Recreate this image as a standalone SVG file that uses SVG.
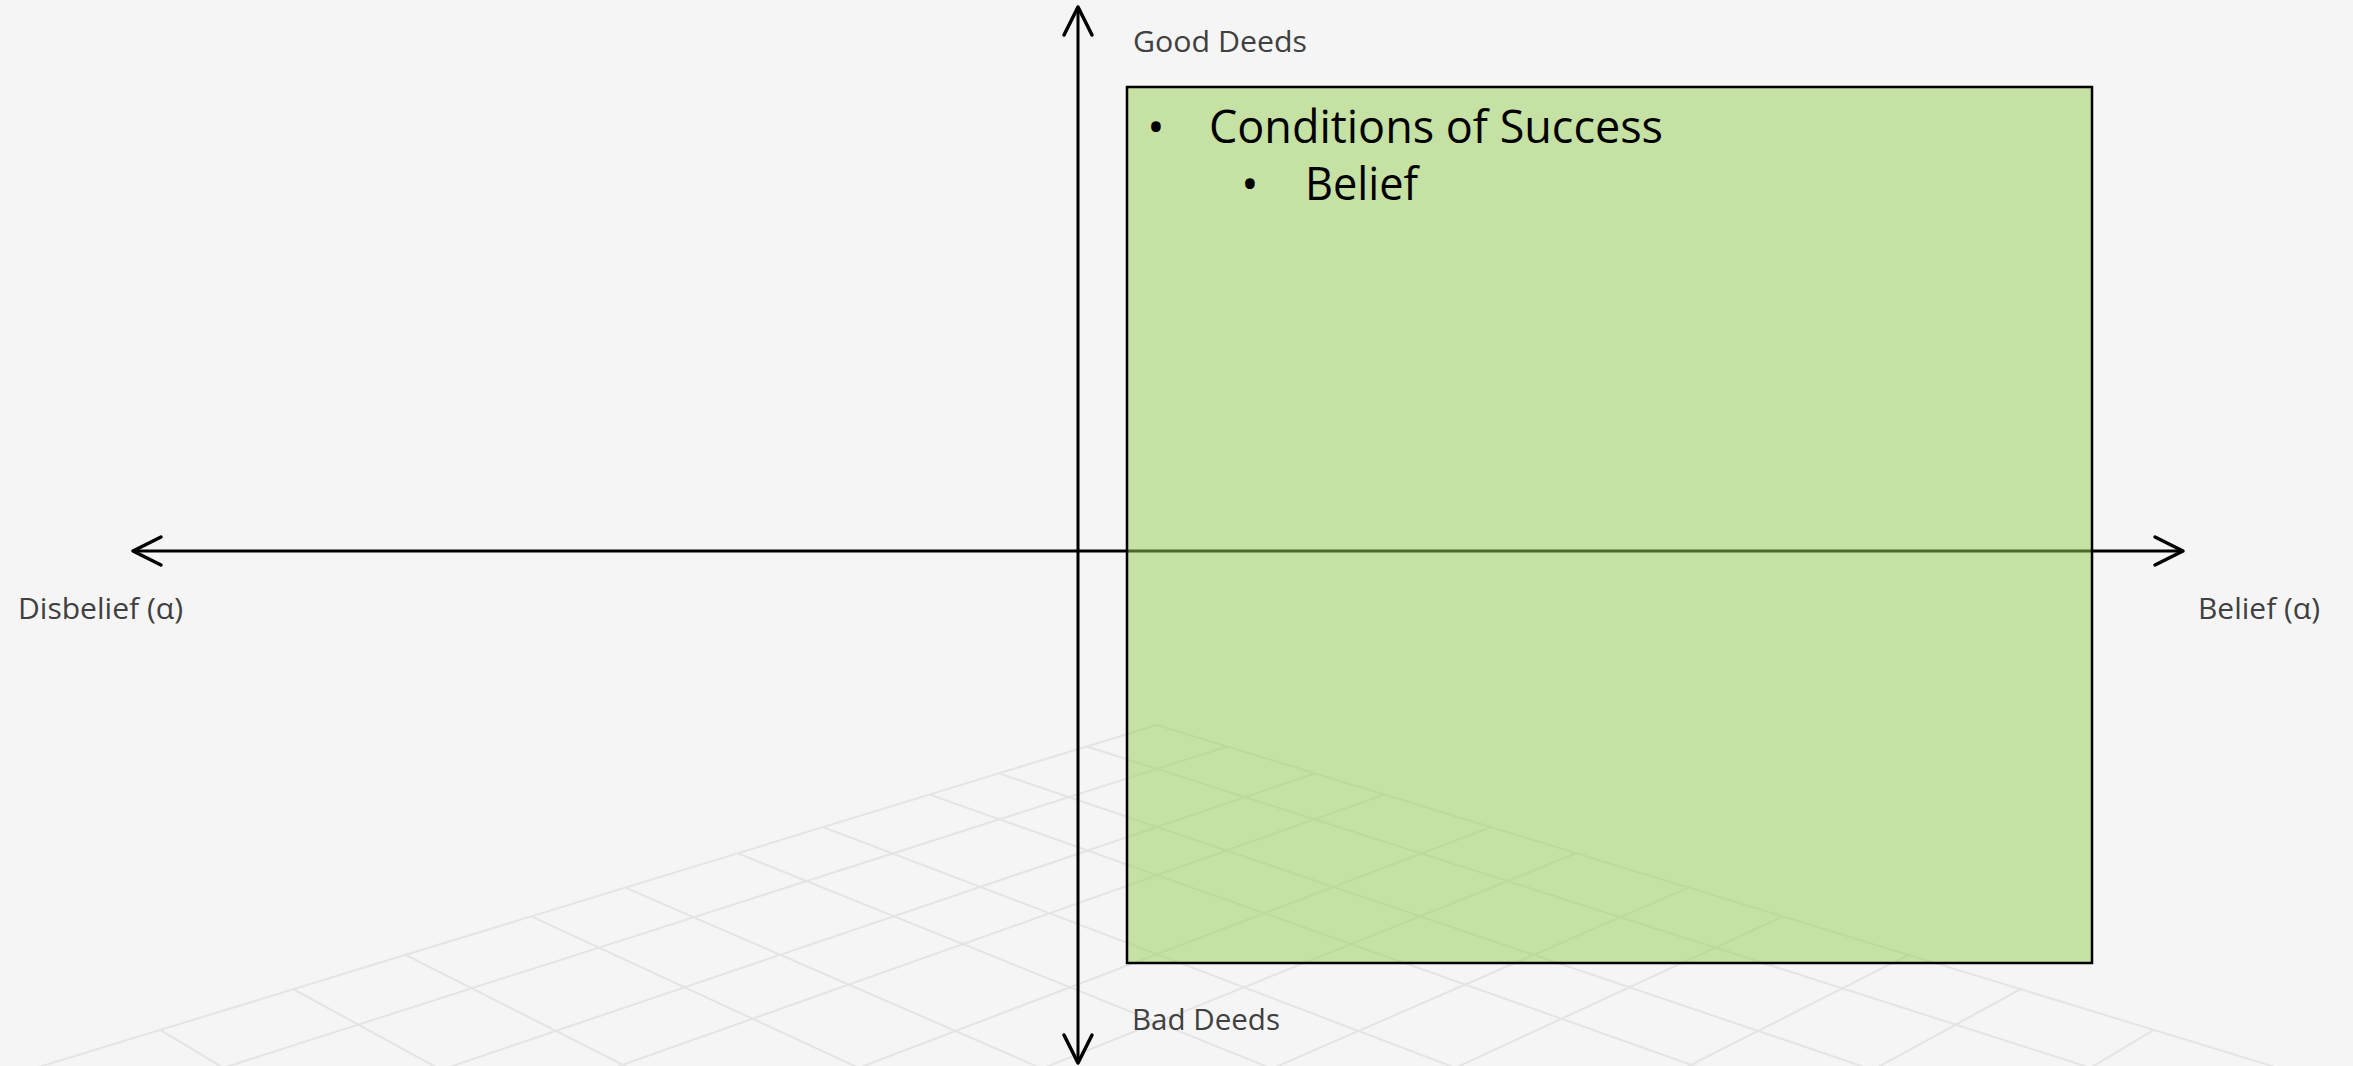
<svg xmlns="http://www.w3.org/2000/svg" width="2353" height="1066" viewBox="0 0 2353 1066">
  <style>
    .grid line { stroke: #e4e4e4; stroke-width: 2; }
    .axis { stroke: #000; stroke-width: 3; fill: none; }
    .label { font-family: "Open Sans", "Noto Sans", "DejaVu Sans", sans-serif; font-size: 30px; fill: #404040; }
    .body { font-family: "Open Sans", "Noto Sans", "DejaVu Sans", sans-serif; font-size: 46px; fill: #000; }
  </style>
  <defs>
    <marker id="arrow" markerUnits="userSpaceOnUse" markerWidth="40" markerHeight="40" viewBox="-35 -20 40 40" refX="0" refY="0" orient="auto-start-reverse" overflow="visible">
      <path d="M-28,-14 L0,0 L-28,14" fill="none" stroke="#000" stroke-width="3.5" stroke-linecap="round" stroke-linejoin="round"/>
    </marker>
  </defs>
  <rect width="2353" height="1066" fill="#f5f5f5"/>

  <g id="floor-grid" class="grid">
    <line x1="1157" y1="725" x2="2278.4" y2="1068"/>
    <line x1="1087" y1="746.5" x2="2091.2" y2="1068"/>
    <line x1="999" y1="773.4" x2="1867.4" y2="1068"/>
    <line x1="930" y1="794.6" x2="1700.2" y2="1068"/>
    <line x1="823.5" y1="827.2" x2="1455.7" y2="1068"/>
    <line x1="738" y1="853.4" x2="1270.3" y2="1068"/>
    <line x1="626" y1="887.8" x2="1040.8" y2="1068"/>
    <line x1="532" y1="916.6" x2="858.9" y2="1068"/>
    <line x1="406" y1="955.2" x2="629.3" y2="1068"/>
    <line x1="294" y1="989.5" x2="437.6" y2="1068"/>
    <line x1="161" y1="1030.3" x2="223.7" y2="1068"/>

    <line x1="1157" y1="725" x2="35.6" y2="1068"/>
    <line x1="1227" y1="746.5" x2="222.8" y2="1068"/>
    <line x1="1315" y1="773.4" x2="446.6" y2="1068"/>
    <line x1="1384" y1="794.6" x2="613.8" y2="1068"/>
    <line x1="1490.5" y1="827.2" x2="858.3" y2="1068"/>
    <line x1="1576" y1="853.4" x2="1043.7" y2="1068"/>
    <line x1="1688" y1="887.8" x2="1273.2" y2="1068"/>
    <line x1="1782" y1="916.6" x2="1455.1" y2="1068"/>
    <line x1="1908" y1="955.2" x2="1684.7" y2="1068"/>
    <line x1="2020" y1="989.5" x2="1876.4" y2="1068"/>
    <line x1="2153" y1="1030.3" x2="2090.3" y2="1068"/>
  </g>

  <g id="connectors">
    <line id="axis-belief" class="axis" x1="133" y1="551" x2="2183" y2="551" marker-start="url(#arrow)" marker-end="url(#arrow)"/>
    <line id="axis-deeds" class="axis" x1="1078" y1="1063" x2="1078" y2="7" marker-start="url(#arrow)" marker-end="url(#arrow)"/>
  </g>

  <g id="node-good-deeds">
    <text class="label" x="1133" y="52" textLength="174" lengthAdjust="spacingAndGlyphs">Good Deeds</text>
  </g>
  <g id="node-bad-deeds">
    <text class="label" x="1132" y="1030" textLength="148" lengthAdjust="spacingAndGlyphs">Bad Deeds</text>
  </g>
  <g id="node-disbelief">
    <text class="label" x="18" y="619" textLength="165" lengthAdjust="spacingAndGlyphs">Disbelief (α)</text>
  </g>
  <g id="node-belief">
    <text class="label" x="2198" y="619" textLength="122" lengthAdjust="spacingAndGlyphs">Belief (α)</text>
  </g>

  <g id="node-conditions">
    <rect x="1127" y="87" width="965" height="876" fill="#95cd51" fill-opacity="0.5" stroke="#000" stroke-width="2.5"/>
    <text class="body" x="1156" y="143" text-anchor="middle">•</text>
    <text class="body" x="1209" y="143" textLength="454" lengthAdjust="spacingAndGlyphs">Conditions of Success</text>
    <text class="body" x="1250" y="200" text-anchor="middle">•</text>
    <text class="body" x="1305" y="200" textLength="113" lengthAdjust="spacingAndGlyphs">Belief</text>
  </g>
</svg>
